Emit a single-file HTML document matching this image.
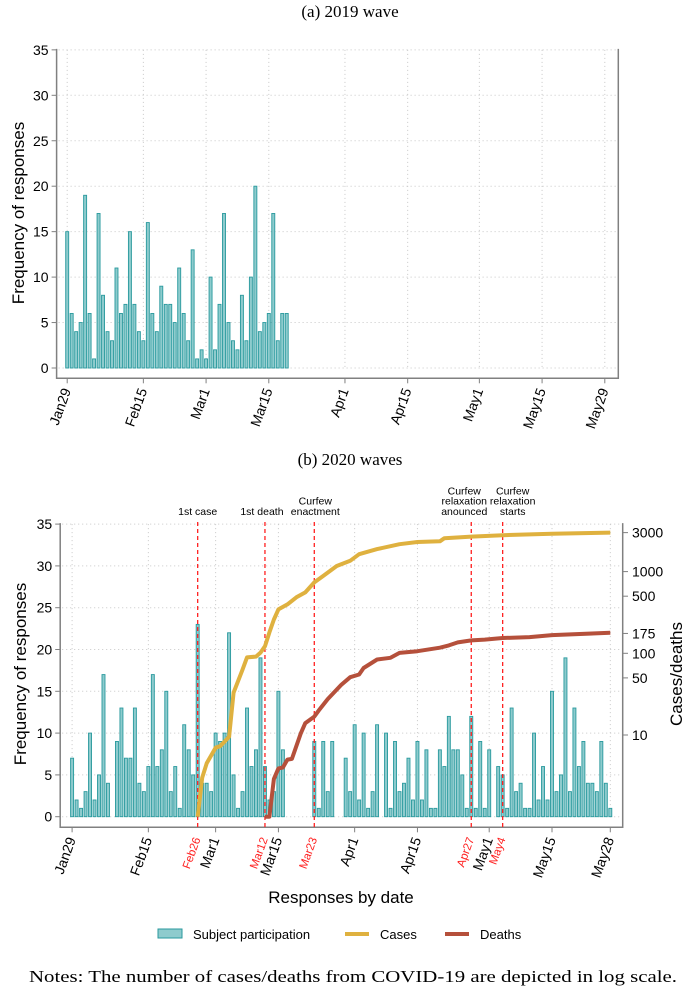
<!DOCTYPE html>
<html><head><meta charset="utf-8">
<style>
html,body{margin:0;padding:0;background:#fff;}
svg{display:block;}
.t{font-family:"Liberation Sans",Arial,sans-serif;}
.s{font-family:"Liberation Serif","DejaVu Serif",serif;}
</style></head>
<body>
<svg id="chart" width="690" height="991" viewBox="0 0 690 991" xmlns="http://www.w3.org/2000/svg">
<text class="s" x="350" y="17" font-size="17" text-anchor="middle">(a) 2019 wave</text>
<text class="s" x="350" y="465" font-size="17" text-anchor="middle">(b) 2020 waves</text>
<g id="pa"></g>
<g id="pb"></g>
<text class="t" x="341" y="903" font-size="17" text-anchor="middle">Responses by date</text>
<g>
<rect x="158" y="929" width="24" height="9" fill="#8ecbcd" stroke="#2a9a9e" stroke-width="1"/>
<text class="t" x="193" y="939" font-size="13">Subject participation</text>
<rect x="345" y="932" width="24" height="4" fill="#dfb13f"/>
<text class="t" x="380" y="939" font-size="13">Cases</text>
<rect x="445" y="932" width="24" height="4" fill="#b5503b"/>
<text class="t" x="480" y="939" font-size="13">Deaths</text>
</g>
<text class="s" x="29" y="982" font-size="17" textLength="648" lengthAdjust="spacingAndGlyphs">Notes: The number of cases/deaths from COVID-19 are depicted in log scale.</text>
</svg>
<script>
// ---- data ----
const barsA = [15,6,4,5,19,6,1,17,8,4,3,11,6,7,15,7,4,3,16,6,4,9,7,7,5,11,6,3,13,1,2,1,10,2,7,17,5,3,2,8,3,10,20,4,5,6,17,3,6,6];
const daysB = [0,1,2,3,4,5,6,7,8,10,11,12,13,14,15,16,17,18,19,20,21,22,23,24,25,26,27,28,29,30,31,32,33,34,35,36,37,38,39,40,41,42,43,44,45,46,47,54,55,56,57,58,61,62,63,64,65,66,67,68,70,71,72,73,74,75,76,77,78,79,80,81,82,83,84,85,86,87,88,89,90,91,92,93,95,96,97,98,99,100,101,102,103,104,105,106,107,108,109,110,111,112,113,114,115,116,117,118,119,120];
const barsB = [7,2,1,3,10,2,5,17,4,9,13,7,7,13,4,3,6,17,6,8,15,3,6,1,11,8,5,23,4,4,3,10,9,10,22,5,1,3,13,6,8,19,6,2,3,15,8,9,1,9,3,9,7,3,11,2,10,1,3,11,10,1,9,3,4,7,2,9,2,8,1,1,8,6,12,8,8,5,1,12,1,9,1,8,6,5,1,13,3,4,1,1,10,2,6,2,15,3,5,19,3,13,6,9,4,4,3,9,4,1];
const caseDays = [28,29,30,32,33,34,35,36,38,39,41,42,43,44,45,46,48,50,52,54,56,59,62,64,68,73,77,82,83,89,96,107,120];
const caseVals = [1,3,4.5,7,7.3,8.3,9.5,33,63,89,91,102,122,180,259,345,397,484,556,738,885,1172,1355,1633,1887,2166,2300,2350,2560,2680,2790,2900,3000];
const deathDays = [43,44,45,46,47,48,49,51,52,54,55,57,60,62,64,65,68,71,73,77,82,84,86,89,92,96,102,107,120];
const deathVals = [1,1,2.9,3.9,4,5,5.1,10.5,14,16.8,20,27.5,41,51,55,66,84,88,101,106,117,125,136,144,147,154,158,167,178];
const yTicks = [0,5,10,15,20,25,30,35];
const rightTicks = [10,50,100,175,500,1000,3000];
const ticksA = [["Jan29",0],["Feb15",17],["Mar1",31],["Mar15",45],["Apr1",62],["Apr15",76],["May1",92],["May15",106],["May29",120]];
const ticksB = [["Jan29",0],["Feb15",17],["Mar1",32],["Mar15",46],["Apr1",63],["Apr15",77],["May1",93],["May15",107],["May28",120]];
const eventDays = [28,43,54,89,96];
const eventLabels = ["Feb26","Mar12","Mar23","Apr27","May4"];
const eventTitles = [["1st case"],["1st death"],["Curfew","enactment"],["Curfew","relaxation","anounced"],["Curfew","relaxation","starts"]];
const eventTitleShift = [0,-3,1,-7,10];

const NS = "http://www.w3.org/2000/svg";
function mk(tag, attrs, parent){const e=document.createElementNS(NS,tag);for(const k in attrs)e.setAttribute(k,attrs[k]);parent.appendChild(e);return e;}

function panel(g, o){
  const xs = d => o.x0 + d*o.dx;
  const ys = v => o.y0 - v*o.py;
  yTicks.forEach(v=>{
    const l=mk("line",{x1:o.left+2,x2:o.right-2,y1:ys(v),y2:ys(v),stroke:"#c8c8c8","stroke-width":1,"stroke-dasharray":"1,3"},g);
    
    
  });
  o.ticks.forEach(t=>{
    const l=mk("line",{x1:xs(t[1]),x2:xs(t[1]),y1:ys(35),y2:o.y0,stroke:"#c8c8c8","stroke-width":1,"stroke-dasharray":"1,3"},g);
    
    
  });
  o.bars.forEach((v,i)=>{
    const d=o.days?o.days[i]:i;
    const r=mk("rect",{x:xs(d)-1.5,y:ys(v),width:3,height:v*o.py,fill:"#8ecbcd",stroke:"#2a9a9e","stroke-width":0.9},g);
    
    
  });
  const ax=mk("path",{d:`M${o.left},${ys(35)-1} V${o.bottom} H${o.right} V${ys(35)-1}`,fill:"none",stroke:"#808080","stroke-width":1.5},g);
  
  
  yTicks.forEach(v=>{
    mk("line",{x1:o.left-5,x2:o.left,y1:ys(v),y2:ys(v),stroke:"#808080","stroke-width":1},g);
    const t=mk("text",{x:o.left-8,y:ys(v)+5,"font-size":14,"text-anchor":"end",class:"t"},g);
    t.textContent=v;
    
    
  });
  o.ticks.forEach(tk=>{
    const x=xs(tk[1]);
    mk("line",{x1:x,x2:x,y1:o.bottom,y2:o.bottom+5,stroke:"#808080","stroke-width":1},g);
    const t=mk("text",{x:x+4,y:o.bottom+12,"font-size":14,"text-anchor":"end",class:"t",transform:`rotate(-70 ${x+4} ${o.bottom+12})`},g);
    t.textContent=tk[0];
    
    
  });
  const yl=mk("text",{x:0,y:0,"font-size":17,"text-anchor":"middle",class:"t",transform:`translate(${o.ylx},${o.ylc}) rotate(-90)`},g);
  yl.textContent="Frequency of responses";
  
  
  return {xs,ys};
}

const pa=document.getElementById("pa");
panel(pa,{x0:67.2,dx:4.48,y0:368,py:9.09,left:56.6,right:618.3,bottom:378.3,ticks:ticksA,bars:barsA,ylx:24,ylc:213});

const pb=document.getElementById("pb");
const B=panel(pb,{x0:72.1,dx:4.485,y0:816.7,py:8.36,left:60.2,right:622.7,bottom:827.3,ticks:ticksB,bars:barsB,days:daysB,ylx:26,ylc:674});
const ly = v => 816.7 - 81.7*Math.log10(v);
rightTicks.forEach(v=>{
  mk("line",{x1:622.7,x2:628,y1:ly(v),y2:ly(v),stroke:"#808080","stroke-width":1},pb);
  const t=mk("text",{x:632,y:ly(v)+5,"font-size":14,class:"t"},pb);
  t.textContent=v;
  
  
});
const rl=mk("text",{x:0,y:0,"font-size":17,"text-anchor":"middle",class:"t",transform:"translate(682,674) rotate(-90)"},pb);
rl.textContent="Cases/deaths";


eventDays.forEach((d,i)=>{
  const x=B.xs(d);
  const l=mk("line",{x1:x,x2:x,y1:522,y2:827,stroke:"#ff2020","stroke-width":1.3,"stroke-dasharray":"4,3"},pb);
  
  
  const t=mk("text",{x:x+3,y:839,"font-size":11.5,"text-anchor":"end",fill:"#ff2020",class:"t",transform:`rotate(-70 ${x+3} 839)`},pb);
  t.textContent=eventLabels[i];
  
  
  const lines=eventTitles[i];
  lines.forEach((s,j)=>{
    const tt=mk("text",{x:x+eventTitleShift[i],y:515-(lines.length-1-j)*10.3,"font-size":10.5,"text-anchor":"middle",class:"t"},pb);
    tt.textContent=s;
    
    
  });
});
function curve(days,vals,color,name){
  const d=days.map((dd,i)=>(i?"L":"M")+B.xs(dd).toFixed(1)+","+ly(vals[i]).toFixed(1)).join(" ");
  const p=mk("path",{d:d,fill:"none",stroke:color,"stroke-width":4,"stroke-linejoin":"round"},pb);
  
  
}
curve(caseDays,caseVals,"#dfb13f","cases-line");
curve(deathDays,deathVals,"#b5503b","deaths-line");
</script>
</body></html>
